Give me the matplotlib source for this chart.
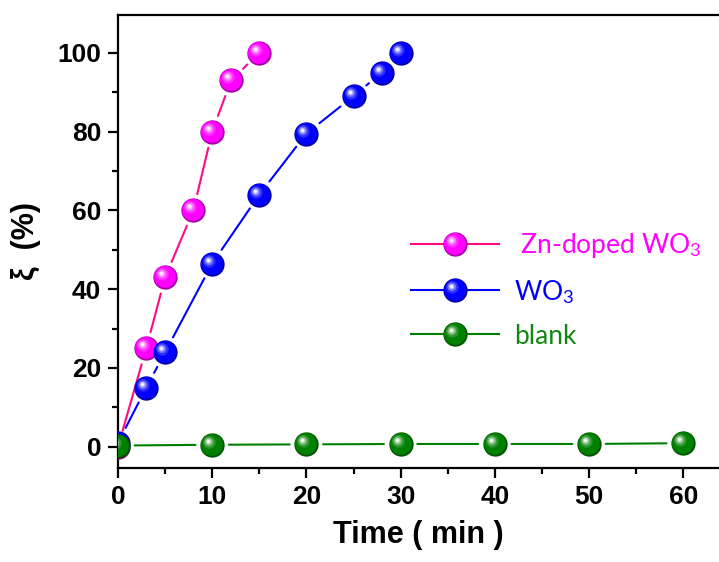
import matplotlib
matplotlib.use("Agg")
import numpy as np
import matplotlib.pyplot as plt
import matplotlib.colors as mcolors
from matplotlib.lines import Line2D
from matplotlib.path import Path
from matplotlib.ticker import MultipleLocator

# ---- data -------------------------------------------------------------
time_zn = [0, 3, 5, 8, 10, 12, 15]
xi_zn = [0, 25, 43, 60, 80, 93, 100]

time_wo3 = [0, 3, 5, 10, 15, 20, 25, 28, 30]
xi_wo3 = [1, 15, 24, 46.5, 64, 79.5, 89, 95, 100]

time_blank = [0, 10, 20, 30, 40, 50, 60]
xi_blank = [0.3, 0.5, 0.6, 0.7, 0.7, 0.7, 0.9]

x_ticks = [0, 10, 20, 30, 40, 50, 60]
y_ticks = [0, 20, 40, 60, 80, 100]
series_labels = [" Zn-doped WO$_3$", "WO$_3$", "blank"]

# ---- style ------------------------------------------------------------
plt.rcParams["font.family"] = ["Liberation Sans", "DejaVu Sans"]
plt.rcParams["mathtext.fontset"] = "custom"
plt.rcParams["mathtext.rm"] = "Lato"
plt.rcParams["mathtext.it"] = "Lato:italic"

fig = plt.figure(figsize=(7.19, 5.62), dpi=100)
ax = fig.add_axes([118 / 719, 1 - 468 / 562, 1 - 118 / 719, (468 - 15) / 562])

ax.set_xlim(0, 63.8)
ax.set_ylim(-5.4, 109.6)

MARKER = 17.5      # ball diameter (points)
GAP = 12.0         # line stops this far (points) from a ball centre


def disc(cx, cy, r):
    """Circle marker path offset inside a fixed [-1, 1] box."""
    circ = Path.circle((cx, cy), r)
    codes = circ.codes if circ.codes is not None else \
        np.full(len(circ.vertices), Path.LINETO)
    verts = np.vstack([[[1.0, 1.0]], [[-1.0, -1.0]], circ.vertices])
    codes = np.concatenate([[Path.MOVETO, Path.MOVETO], codes])
    return Path(verts, codes)


def shade(rgb, t):
    return tuple(np.clip(rgb + (1 - rgb) * t, 0, 1))


def balls(x, y, color, z):
    """Draw shaded spheres at the data points; returns the layer artists."""
    rgb = np.array(mcolors.to_rgb(color))
    layers = [
        ("o", tuple(rgb * 0.65)),
        (disc(-0.05, 0.05, 0.90), tuple(rgb)),
        (disc(-0.26, 0.26, 0.52), shade(rgb, 0.18)),
        (disc(-0.30, 0.30, 0.36), shade(rgb, 0.45)),
        (disc(-0.32, 0.32, 0.22), shade(rgb, 0.75)),
        (disc(-0.33, 0.33, 0.11), shade(rgb, 1.0)),
    ]
    arts = []
    for i, (mk, fc) in enumerate(layers):
        (ln,) = ax.plot(x, y, linestyle="none", marker=mk, markersize=MARKER,
                        markerfacecolor=fc, markeredgewidth=0,
                        zorder=z + 0.01 * i)
        arts.append(ln)
    return arts


def connect(x, y, color, z):
    for x0, y0, x1, y1 in zip(x[:-1], y[:-1], x[1:], y[1:]):
        ax.annotate("", xy=(x1, y1), xytext=(x0, y0),
                    arrowprops=dict(arrowstyle="-", color=color, lw=1.5,
                                    shrinkA=GAP, shrinkB=GAP),
                    zorder=z)


series = [
    (time_zn, xi_zn, "#FF00FF", "#FF0A84", "#FF00FF", 3),
    (time_wo3, xi_wo3, "#0000FF", "#0000FF", "#0000FF", 4),
    (time_blank, xi_blank, "#008000", "#008000", "#118811", 5),
]

handles = []
text_colors = []
for x, y, mcol, lcol, tcol, z in series:
    connect(x, y, lcol, z - 0.5)
    arts = balls(x, y, mcol, z)
    line_handle = Line2D([], [], color=lcol, lw=1.5)
    handles.append(tuple([line_handle] + arts))
    text_colors.append(tcol)

# ---- axes -------------------------------------------------------------
ax.spines["right"].set_visible(False)
for s in ("left", "bottom", "top"):
    ax.spines[s].set_linewidth(1.6)

ax.set_xticks(x_ticks)
ax.set_yticks(y_ticks)
ax.xaxis.set_minor_locator(MultipleLocator(5))
ax.yaxis.set_minor_locator(MultipleLocator(10))
ax.tick_params(which="major", direction="out", length=7, width=1.6,
               labelsize=19, pad=5)
ax.tick_params(which="minor", direction="out", length=4, width=1.6)
ax.tick_params(top=False, right=False, which="both")
for lab in ax.get_xticklabels() + ax.get_yticklabels():
    lab.set_fontweight("bold")

ax.set_xlabel("Time ( min )", fontsize=22, fontweight="bold", labelpad=8)
ax.set_ylabel("\u03be  (%)", fontsize=22, fontweight="bold", labelpad=12)

leg = ax.legend(handles, series_labels, loc="upper left",
                bbox_to_anchor=(0.47, 0.547), frameon=False,
                handlelength=3.35, handletextpad=0.55, labelspacing=0.68,
                prop={"family": "Lato", "size": 19}, borderaxespad=0)
for txt, c in zip(leg.get_texts(), text_colors):
    txt.set_color(c)

fig.savefig("out.png", dpi=100)
